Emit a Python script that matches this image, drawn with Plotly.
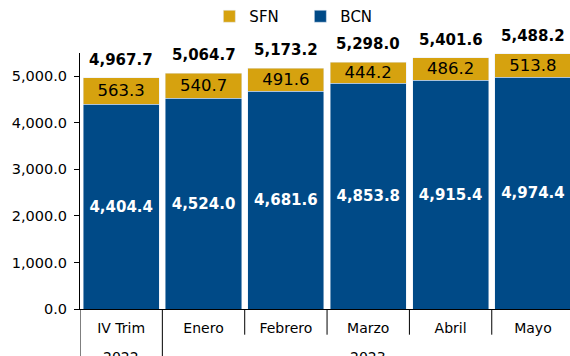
import plotly.graph_objects as go

# Monthly figures (millions), stacked: BCN at the base, SFN on top
periods = ["IV Trim", "Enero", "Febrero", "Marzo", "Abril", "Mayo"]
year_labels = ["2022", "2023"]
year_spans = [(0, 0), (1, 5)]  # first and last period index of each year
bcn = [4404.4, 4524.0, 4681.6, 4853.8, 4915.4, 4974.4]
sfn = [563.3, 540.7, 491.6, 444.2, 486.2, 513.8]
totals = [round(b + s, 1) for b, s in zip(bcn, sfn)]

BLUE = "#004A87"
GOLD = "#D6A20F"
FONT = "DejaVu Sans"
PLOT_H = 259  # plot-area height in px, used to place items below the axis

fig = go.Figure()
fig.add_trace(go.Bar(
    x=periods, y=bcn, name="BCN", marker_color=BLUE,
    texttemplate="%{y:,.1f}", textposition="inside", insidetextanchor="middle",
    textfont=dict(family=FONT, size=15, color="white", weight="bold"),
    constraintext="none",
))
fig.add_trace(go.Bar(
    x=periods, y=sfn, name="SFN", marker_color=GOLD,
    texttemplate="%{y:,.1f}", textposition="inside", insidetextanchor="middle",
    textfont=dict(family=FONT, size=16.5, color="black"),
    constraintext="none",
))

# Totals above each stack
for p, t in zip(periods, totals):
    fig.add_annotation(
        x=p, y=t, text=f"<b>{t:,.1f}</b>", showarrow=False,
        yanchor="bottom", yshift=7,
        font=dict(family=FONT, size=15, color="black"),
    )

# Category boundaries below the axis; year boundaries run to the bottom edge
group_edges = {s - 0.5 for s, _ in year_spans}
for i in range(len(periods)):
    edge = i - 0.5
    fig.add_shape(
        type="line", xref="x", yref="paper",
        x0=edge, x1=edge, y0=0,
        y1=-0.25 if edge in group_edges else -26 / PLOT_H,
        line=dict(color="black", width=1),
    )

# Year labels under their groups of periods
for label, (a, b) in zip(year_labels, year_spans):
    fig.add_annotation(
        x=(a + b) / 2, xref="x", y=-38 / PLOT_H, yref="paper",
        text=label, showarrow=False, yanchor="top",
        font=dict(family=FONT, size=14, color="black"),
    )

fig.update_layout(
    width=570, height=356,
    margin=dict(l=80, r=0, t=50, b=47),
    barmode="stack", bargap=0.075,
    plot_bgcolor="white", paper_bgcolor="white",
    font=dict(family=FONT, size=14, color="black"),
    legend=dict(
        orientation="h", traceorder="reversed",
        x=0.264, xanchor="left", y=1.143, yanchor="middle",
        font=dict(family=FONT, size=15), entrywidth=46,
    ),
    xaxis=dict(
        type="category", range=[-0.5, 5.45],
        showline=True, linecolor="black", linewidth=1,
        ticks="", ticklabelstandoff=6,
        tickfont=dict(family=FONT, size=14),
        showgrid=False,
    ),
    yaxis=dict(
        range=[0, 5500], dtick=1000, tickformat=",.1f",
        showline=True, linecolor="black", linewidth=1,
        ticks="outside", ticklen=5, tickcolor="black",
        ticklabelstandoff=4,
        tickfont=dict(family=FONT, size=14.5),
        showgrid=False, zeroline=False,
    ),
)

fig.write_html("out.html")
